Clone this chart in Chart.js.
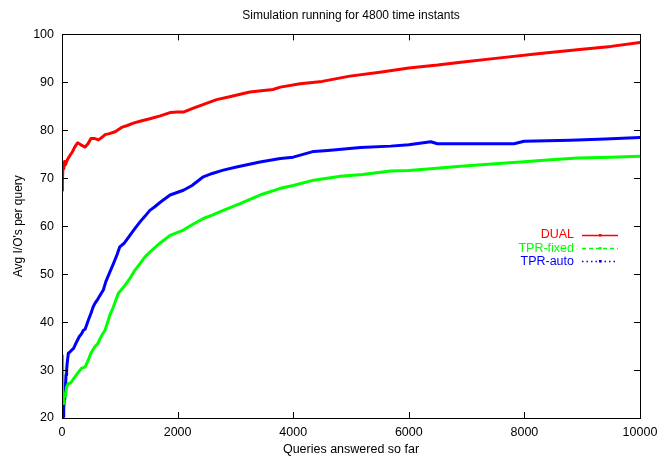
<!DOCTYPE html>
<html>
<head>
<meta charset="utf-8">
<script src="https://cdn.jsdelivr.net/npm/chart.js@4"></script>
<style>
html,body{margin:0;padding:0;background:#fff;}
#wrap{width:669px;height:460px;position:relative;}
</style>
</head>
<body>
<div id="wrap"><canvas id="c" width="669" height="460"></canvas></div>
<script>
const chartTitle = 'Simulation running for 4800 time instants';
const xTitle = 'Queries answered so far';
const yTitle = "Avg I/O's per query";
const seriesNames = ['DUAL', 'TPR-fixed', 'TPR-auto'];
const xTicks = [0, 2000, 4000, 6000, 8000, 10000];
const yTicks = [20, 30, 40, 50, 60, 70, 80, 90, 100];

const dualX = [0, 5, 10, 20, 30, 45, 60, 80, 100, 140, 180, 220, 270, 300, 350, 400, 450, 500, 560, 630, 700, 745, 820, 920, 1030, 1130, 1235, 1380, 1520, 1700, 1870, 2000, 2100, 2250, 2450, 2675, 2900, 3250, 3650, 3778, 4120, 4500, 4980, 5500, 6000, 6500, 6900, 7500, 8270, 9000, 9500, 10000];
const dualY = [67.5, 71, 69.5, 73, 72, 73.5, 72.8, 73.5, 74, 74.8, 75.5, 76.5, 77.4, 77.2, 76.8, 76.5, 77.2, 78.3, 78.3, 78.0, 78.6, 79.1, 79.3, 79.7, 80.6, 81.0, 81.5, 82.0, 82.4, 83.0, 83.7, 83.8, 83.8, 84.5, 85.4, 86.4, 87.0, 88.0, 88.5, 89.0, 89.7, 90.2, 91.3, 92.1, 93.0, 93.6, 94.2, 95.0, 96.0, 96.9, 97.5, 98.3];

const fixedX = [0, 5, 10, 15, 20, 30, 45, 60, 80, 110, 150, 190, 225, 280, 340, 400, 455, 500, 570, 620, 657, 700, 745, 790, 830, 890, 975, 1080, 1175, 1260, 1350, 1430, 1520, 1700, 1870, 2100, 2250, 2445, 2600, 2790, 3080, 3425, 3778, 4000, 4355, 4820, 5200, 5685, 6000, 6380, 6900, 7500, 7935, 8400, 8920, 9500, 10000];
const fixedY = [33, 29, 24, 26, 23, 24.4, 25, 24.5, 26.5, 27.2, 27.3, 28, 28.6, 29.5, 30.4, 30.6, 32.1, 33.5, 34.9, 35.5, 36.5, 37.5, 38.3, 40, 41.5, 43.2, 46.0, 47.5, 49.1, 50.8, 52.2, 53.5, 54.6, 56.5, 58.1, 59.2, 60.3, 61.6, 62.3, 63.3, 64.7, 66.5, 67.9, 68.5, 69.6, 70.4, 70.8, 71.5, 71.6, 72.0, 72.5, 73.0, 73.4, 73.8, 74.2, 74.4, 74.6];

const autoX = [0, 5, 10, 15, 20, 30, 40, 50, 60, 70, 80, 90, 110, 140, 170, 200, 250, 300, 340, 370, 400, 455, 500, 540, 570, 620, 680, 715, 760, 820, 890, 950, 1000, 1080, 1175, 1260, 1350, 1430, 1520, 1600, 1700, 1870, 2100, 2250, 2445, 2600, 2790, 3000, 3425, 3778, 4000, 4355, 4600, 5165, 5685, 6000, 6380, 6495, 6900, 7500, 7820, 7995, 8800, 9400, 10000];
const autoY = [22, 31, 20, 28, 20.3, 22, 24, 25, 26.5, 29, 30, 31.5, 33.5, 33.8, 34.2, 34.5, 35.8, 37, 37.6, 38.3, 38.5, 40.4, 41.8, 43.2, 43.9, 44.8, 46, 46.7, 48.5, 50.2, 52.2, 54, 55.7, 56.5, 58.1, 59.5, 60.9, 62, 63.3, 64, 65, 66.5, 67.5, 68.5, 70.3, 71, 71.7, 72.3, 73.4, 74.1, 74.4, 75.6, 75.8, 76.4, 76.7, 77.0, 77.6, 77.2, 77.2, 77.2, 77.2, 77.7, 77.9, 78.2, 78.5];

const colors = ['#ff0000', '#00ff00', '#0000ff'];
const legendDash = [[], [4, 3], [1.5, 3]];
const FONT = "'Liberation Sans', Arial, Helvetica, sans-serif";

function pts(xs, ys) { return xs.map((x, i) => ({x: x, y: ys[i]})); }

const frame = {
  id: 'frame',
  afterDraw(chart) {
    const {ctx, chartArea: a, scales: {x, y}} = chart;
    ctx.save();
    ctx.strokeStyle = '#000';
    ctx.lineWidth = 1;
    ctx.strokeRect(Math.round(a.left) + 0.5, Math.round(a.top) + 0.5, Math.round(a.right - a.left), Math.round(a.bottom - a.top));
    ctx.beginPath();
    const tl = 6;
    xTicks.forEach(v => {
      const px = Math.round(x.getPixelForValue(v)) + 0.5;
      ctx.moveTo(px, a.bottom); ctx.lineTo(px, a.bottom - tl);
      ctx.moveTo(px, a.top); ctx.lineTo(px, a.top + tl);
    });
    yTicks.forEach(v => {
      const py = Math.round(y.getPixelForValue(v)) + 0.5;
      ctx.moveTo(a.left, py); ctx.lineTo(a.left + tl, py);
      ctx.moveTo(a.right, py); ctx.lineTo(a.right - tl, py);
    });
    ctx.stroke();
    // legend
    ctx.font = '12.5px ' + FONT;
    ctx.textAlign = 'right';
    ctx.textBaseline = 'middle';
    const ly0 = 235, lstep = 13.2;
    seriesNames.forEach((n, i) => {
      const yy = ly0 + i * lstep;
      ctx.fillStyle = colors[i];
      ctx.fillText(n, 574, yy);
      ctx.strokeStyle = colors[i];
      ctx.lineWidth = 1.3;
      ctx.setLineDash(legendDash[i]);
      ctx.beginPath();
      ctx.moveTo(582, Math.round(yy) + 0.5);
      ctx.lineTo(618, Math.round(yy) + 0.5);
      ctx.stroke();
      ctx.setLineDash([]);
      ctx.fillRect(599, Math.round(yy) - 1, 2.5, 2.5);
    });
    ctx.restore();
  }
};

new Chart(document.getElementById('c'), {
  type: 'line',
  data: {
    datasets: [
      {label: seriesNames[0], data: pts(dualX, dualY), borderColor: colors[0], backgroundColor: colors[0]},
      {label: seriesNames[1], data: pts(fixedX, fixedY), borderColor: colors[1], backgroundColor: colors[1]},
      {label: seriesNames[2], data: pts(autoX, autoY), borderColor: colors[2], backgroundColor: colors[2]}
    ]
  },
  options: {
    responsive: false,
    animation: false,
    parsing: true,
    elements: {
      point: {radius: 0},
      line: {borderWidth: 3, tension: 0, borderJoinStyle: 'round', borderCapStyle: 'round'}
    },
    layout: {padding: {left: 0, right: 29, top: 0, bottom: 0}},
    plugins: {
      legend: {display: false},
      tooltip: {enabled: false},
      title: {
        display: true, text: chartTitle, fullSize: false, color: '#000',
        font: {family: FONT, size: 12, weight: 'normal'},
        padding: {top: 8, bottom: 12}
      }
    },
    scales: {
      x: {
        type: 'linear', min: 0, max: 10000,
        afterBuildTicks: s => { s.ticks = xTicks.map(v => ({value: v})); },
        afterFit: s => { s.height = 42; },
        grid: {display: false, drawTicks: false},
        border: {display: false},
        ticks: {color: '#000', padding: 7, maxRotation: 0, font: {family: FONT, size: 12.5}, callback: v => String(v)},
        title: {display: true, text: xTitle, color: '#000', font: {family: FONT, size: 12.5}, padding: {top: 3, bottom: 3}}
      },
      y: {
        type: 'linear', min: 20, max: 100,
        afterBuildTicks: s => { s.ticks = yTicks.map(v => ({value: v})); },
        afterFit: s => { s.width = 62; },
        grid: {display: false, drawTicks: false},
        border: {display: false},
        ticks: {color: '#000', padding: 8, font: {family: FONT, size: 12.5}, callback: v => String(v)},
        title: {display: true, text: yTitle, color: '#000', font: {family: FONT, size: 12}, padding: {top: 11, bottom: 3}}
      }
    }
  },
  plugins: [frame]
});
</script>
</body>
</html>
